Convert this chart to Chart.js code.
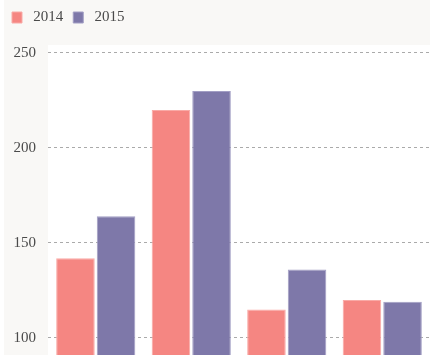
<!DOCTYPE html>
<html>
<head>
<meta charset="utf-8">
<script src="https://cdn.jsdelivr.net/npm/chart.js@4/dist/chart.umd.min.js"></script>
<style>
  body { margin: 0; background: #f9f8f6; }
  canvas { display: block; }
</style>
</head>
<body>
<canvas id="barChart" width="430" height="355"></canvas>
<script>
// data
const categories = ['A', 'B', 'C', 'D'];
const seriesNames = ['2014', '2015'];
const values2014 = [142, 220, 115, 120];
const values2015 = [164, 230, 136, 119];
const yTicks = [100, 150, 200, 250];

const bgPlugin = {
    id: 'bg',
    beforeInit(chart) {
        // extra space under the legend
        const fit = chart.legend.fit;
        chart.legend.fit = function () {
            fit.call(this);
            this.height += 10;
        };
    },
    beforeDraw(chart) {
        const ctx = chart.ctx;
        const a = chart.chartArea;
        ctx.save();
        ctx.fillStyle = '#f9f8f6';
        ctx.fillRect(0, 0, chart.width, chart.height);
        ctx.fillStyle = '#ffffff';
        ctx.fillRect(0, 0, 4, chart.height);
        ctx.fillRect(a.left, a.top, chart.width - a.left, chart.height - a.top);
        ctx.restore();
    }
};

function manageBarChart() {
    let ctx = document.getElementById('barChart').getContext('2d');
    new Chart(ctx, {
        type: 'bar',
        data: {
            labels: categories,
            datasets: [{
                label: ' ' + seriesNames[0],
                data: values2014,
                backgroundColor: '#f58682',
                borderColor: '#f9aaa6',
                borderWidth: 1
            }, {
                label: ' ' + seriesNames[1],
                data: values2015,
                backgroundColor: '#7e78a9',
                borderColor: '#a29ec4',
                borderWidth: 1
            }]
        },
        options: {
            responsive: false,
            animation: false,
            layout: { padding: { left: 2, top: 0, right: 0, bottom: 0 } },
            datasets: {
                bar: { categoryPercentage: 0.85, barPercentage: 0.95 }
            },
            plugins: {
                tooltip: { enabled: false },
                legend: {
                    align: 'start',
                    labels: {
                        boxWidth: 10,
                        boxHeight: 11,
                        padding: 10,
                        color: '#4a4a4a',
                        font: { family: 'Liberation Serif', size: 15 }
                    }
                }
            },
            scales: {
                x: { display: false },
                y: {
                    min: 91,
                    max: 254.2,
                    afterBuildTicks: function (scale) {
                        scale.ticks = yTicks.map(v => ({ value: v }));
                    },
                    afterFit: function (scale) {
                        scale.width = 46;
                        scale.paddingTop = 0;
                        scale.paddingBottom = 0;
                    },
                    grid: {
                        drawTicks: false,
                        color: '#aaaaaa',
                        lineWidth: 1
                    },
                    border: { display: false, dash: [3, 3] },
                    ticks: {
                        padding: 12,
                        color: '#4a4a4a',
                        font: { family: 'Liberation Serif', size: 15 }
                    }
                }
            }
        },
        plugins: [bgPlugin]
    });
}

manageBarChart();
</script>
</body>
</html>
